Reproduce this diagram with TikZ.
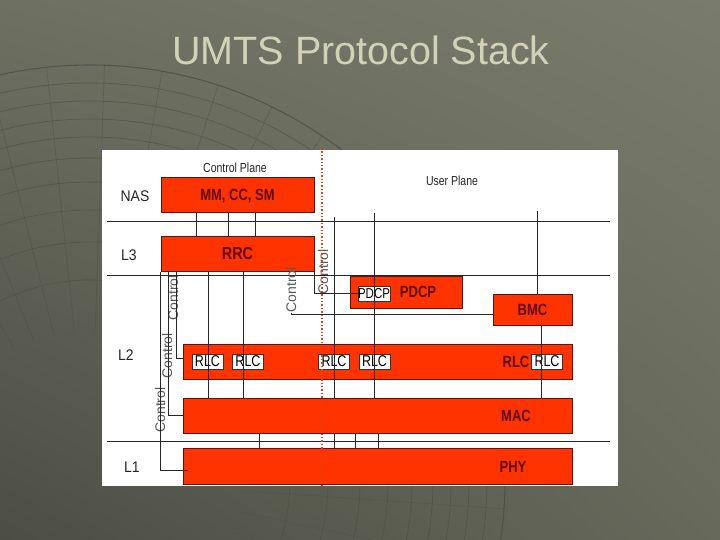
\documentclass[tikz,border=0pt]{standalone}
\usepackage{fontspec}
\setmainfont{Liberation Sans}
\usetikzlibrary{calc,shadings}
\definecolor{bgul}{HTML}{6E7062}
\definecolor{bgur}{HTML}{797B6B}
\definecolor{bgll}{HTML}{4C4D44}
\definecolor{bglr}{HTML}{67695B}
\definecolor{boxred}{HTML}{FF3300}
\definecolor{boxedge}{HTML}{5C1408}
\definecolor{boxtxt}{HTML}{5E0A00}
\definecolor{titlec}{HTML}{D2D2B8}
\definecolor{dotred}{HTML}{E04020}
\definecolor{meshc}{HTML}{4A4B42}
\newcommand{\tallA}[1]{\scalebox{1}[1.25]{#1}}
\newcommand{\tallB}[1]{\scalebox{1}[1.1]{#1}}
\begin{document}
\begin{tikzpicture}[x=1pt,y=-1pt,
 layerbox/.style={draw=boxedge, line width=1pt, fill=boxred, inner sep=0pt},
 subbox/.style={draw=black!80, line width=0.8pt, fill=white, inner sep=0pt, minimum width=31, minimum height=15, font=\fontsize{12.5}{12.5}\selectfont},
 boxlabel/.style={font=\bfseries\fontsize{13}{13}\selectfont, text=boxtxt, inner sep=0pt},
 layerlabel/.style={font=\fontsize{14}{14}\selectfont, text=black!85, inner sep=0pt},
 planelabel/.style={font=\fontsize{10.5}{10.5}\selectfont, text=black!85, inner sep=0pt},
 ctl/.style={font=\fontsize{14}{14}\selectfont, text=black!65, rotate=90, inner sep=0pt},
 link/.style={draw=black!85, line width=0.9pt},
 sepline/.style={draw=black!85, line width=0.9pt},
 meshline/.style={draw=meshc, line width=0.7pt, opacity=0.55}]
\useasboundingbox (0,0) rectangle (720,540);
\shade[upper left=bgul, upper right=bgur, lower left=bgll, lower right=bglr] (0,0) rectangle (720,540);
% decorative mesh
\begin{scope}
\clip (0,0) rectangle (720,540);
\draw[meshline, line width=1.1pt, opacity=0.7] (90,480) circle [radius=415];
\foreach \r in {397,379,361,343,322,298,270,238,200}
  \draw[meshline] (90,480) circle [radius=\r];
\foreach \a in {-8,-16,...,-176}
  \draw[meshline, opacity=0.4] (90,480) ++(\a:150) -- ++(\a:265);
\foreach \a in {4,12,...,60}
  \draw[meshline, opacity=0.25] (90,480) ++(\a:150) -- ++(\a:265);
\end{scope}
% title
\node[font=\fontsize{39.5}{39.5}\selectfont, text=titlec, inner sep=0pt] (title) at (361,50) {UMTS Protocol Stack};
% panel
\node[fill=white, minimum width=516, minimum height=336, inner sep=0pt] (panel) at (360,318) {};
% layer separators
\coordinate (s1l) at (107,221); \coordinate (s1r) at (610,221);
\coordinate (s2l) at (107,275); \coordinate (s2r) at (610,275);
\coordinate (s3l) at (107,441); \coordinate (s3r) at (610,441);
\draw[sepline] (s1l) -- (s1r);
\draw[sepline] (s2l) -- (s2r);
\draw[sepline] (s3l) -- (s3r);
% plane and layer labels
\node[planelabel] (cplane) at (235,168) {\tallA{Control Plane}};
\node[planelabel] (uplane) at (452,181) {\tallA{User Plane}};
\node[layerlabel] (lnas) at (135,196) {\tallB{NAS}};
\node[layerlabel] (ll3) at (129,255) {\tallB{L3}};
\node[layerlabel] (ll2) at (126,355) {\tallB{L2}};
\node[layerlabel] (ll1) at (132,467) {\tallB{L1}};
% layer boxes
\node[layerbox, minimum width=153, minimum height=35] (nas) at (237.5,195.5) {};
\node[boxlabel] (nast) at (237.5,196) {\tallA{MM, CC, SM}};
\node[layerbox, minimum width=153, minimum height=35] (rrc) at (237.5,253.5) {};
\node[boxlabel, font=\bfseries\fontsize{14.5}{14.5}\selectfont] (rrct) at (237.5,254) {\scalebox{1}[1.2]{RRC}};
\node[layerbox, minimum width=112, minimum height=32] (pdcp) at (406,292) {};
\node[boxlabel] (pdcpt) at (418,292) {\tallA{PDCP}};
\node[layerbox, minimum width=79, minimum height=31] (bmc) at (532.5,309.5) {};
\node[boxlabel] (bmct) at (532.5,310) {\tallA{BMC}};
\node[layerbox, minimum width=389, minimum height=35] (rlcl) at (377.5,361.5) {};
\node[boxlabel] (rlct) at (516,362) {\tallA{RLC}};
\node[layerbox, minimum width=389, minimum height=35] (mac) at (377.5,415.5) {};
\node[boxlabel] (mact) at (516,416) {\tallA{MAC}};
\node[layerbox, minimum width=389, minimum height=36] (phy) at (377.5,466) {};
\node[boxlabel] (phyt) at (513,467) {\tallA{PHY}};
% sub boxes
\node[subbox, font=\fontsize{11.5}{11.5}\selectfont] (pdcps) at (374,293.5) {\tallA{PDCP}};
\node[subbox] (rlc1) at (207.5,361.5) {\tallA{RLC}};
\node[subbox] (rlc2) at (248,361.5) {\tallA{RLC}};
\node[subbox] (rlc3) at (334,361.5) {\tallA{RLC}};
\node[subbox] (rlc4) at (374.5,361.5) {\tallA{RLC}};
\node[subbox] (rlc5) at (547,361.5) {\tallA{RLC}};
% control labels
\node[ctl] (ctlA) at (323,272) {Control};
\node[ctl] (ctlB) at (291,290) {Control};
\node[ctl] (ctlC) at (173,298) {Control};
\node[ctl] (ctlD) at (167,356) {Control};
\node[ctl] (ctlE) at (160,410) {Control};
% connections NAS - RRC
\foreach \x in {196,228,255}
  \draw[link] (\x,0 |- nas.south) -- (\x,0 |- rrc.north);
% RRC - MAC
\foreach \x in {208,243}
  \draw[link] (\x,0 |- rrc.south) -- (\x,0 |- mac.north);
% user plane verticals
\coordinate (u1) at (334,217);
\coordinate (u2) at (374,213);
\coordinate (u3) at (537,211);
\draw[link] (u1) -- (334,0 |- mac.north);
\draw[link] (u2) -- (374,0 |- mac.north);
\draw[link] (u3) -- (537,0 |- bmc.north);
\draw[link] (541,0 |- bmc.south) -- (541,0 |- mac.north);
% MAC - PHY
\foreach \x in {259,334,355,378}
  \draw[link] (\x,0 |- mac.south) -- (\x,0 |- phy.north);
% control lines
\draw[link] (rrc.south east) |- (pdcps.west);
\draw[link] (ctlB.west) |- (bmc.west |- 0,314);
\draw[link] (176,0 |- rrc.south) |- (rlcl.west |- 0,358);
\draw[link] (168,0 |- rrc.south) |- (mac.west);
\coordinate (c5end) at (188,470);
\draw[link] (rrc.south west) |- (c5end);
% control/user plane divider
\draw[dotred, dotted, line width=1.4pt] (322,148) -- (322,0 |- panel.south);
\end{tikzpicture}
\end{document}
